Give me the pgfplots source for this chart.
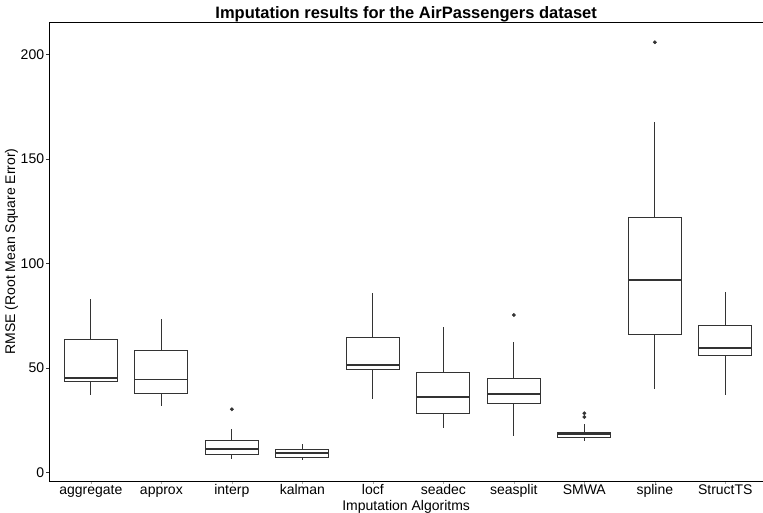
\documentclass[border=0pt]{standalone}
\usepackage{fontspec}
\setmainfont{Liberation Sans}
\usepackage{pgfplots}
\pgfplotsset{compat=1.18}
\usepgfplotslibrary{statistics}
\definecolor{boxgray}{HTML}{333333}

\begin{document}
\begin{tikzpicture}
\useasboundingbox (-49.3pt,-32pt) rectangle (713.7pt,481pt);
\begin{axis}[
  at={(0,0)}, anchor=south west,
  scale only axis, width=713.7pt, height=459pt,
  xmin=0.41, xmax=10.535, ymin=-4, ymax=215.6,
  axis x line*=box, axis y line*=left,
  axis line style={-, black, line width=0.9pt},
  xtick={1,...,10},
  xticklabels={aggregate,approx,interp,kalman,locf,seadec,seasplit,SMWA,spline,StructTS},
  ytick={0,50,100,150,200},
  xtick pos=left, ytick pos=left,
  tick align=outside, major tick length=3pt,
  tick style={boxgray, line width=0.8pt},
  xtick style={gray!70, line width=0.6pt},
  /pgf/number format/assume math mode=true,
  tick label style={font=\fontsize{14}{16}\selectfont, black},
  yticklabel style={anchor=east, inner sep=0pt, xshift=-2pt},
  xticklabel style={anchor=base, inner sep=0pt, yshift=-11pt},
  label style={font=\fontsize{14}{16}\selectfont},
  xlabel={Imputation Algoritms},
  ylabel={RMSE (Root Mean Square Error)},
  xlabel style={at={(axis description cs:0.5,-0.0632)}, anchor=base},
  ylabel style={at={(axis description cs:-0.048,0.5)}, anchor=base},
  title={Imputation results for the AirPassengers dataset},
  every axis title shift=0pt,
  title style={at={(0.5,1)}, anchor=base, yshift=3.7pt, font=\bfseries\fontsize{16.5}{18}\selectfont},
  boxplot/draw direction=y,
  boxplot/box extend=0.75,
  boxplot/whisker extend=0,
  boxplot/every box/.style={draw=boxgray, fill=white, line width=0.9pt},
  boxplot/every whisker/.style={draw=boxgray, line width=0.9pt},
  boxplot/every median/.style={draw=boxgray, line width=1.8pt},
  every axis plot/.append style={draw=boxgray, mark=*, mark size=1.7pt, mark options={fill=boxgray, draw=boxgray}},
]
% aggregate
\addplot[boxplot prepared={draw position=1, lower whisker=37.3, lower quartile=43.4, median=45.3, upper quartile=63.5, upper whisker=83.1}] coordinates {};
% approx
\addplot[boxplot prepared={draw position=2, lower whisker=31.7, lower quartile=38.1, median=44.6, upper quartile=58.3, upper whisker=73.5}] coordinates {};
% interp
\addplot[boxplot prepared={draw position=3, lower whisker=6.3, lower quartile=8.7, median=11.4, upper quartile=15.4, upper whisker=21.0}] coordinates {(0,30.3)};
% kalman
\addplot[boxplot prepared={draw position=4, lower whisker=5.9, lower quartile=7.3, median=9.5, upper quartile=11.3, upper whisker=13.7}] coordinates {};
% locf
\addplot[boxplot prepared={draw position=5, lower whisker=35.4, lower quartile=49.6, median=51.4, upper quartile=64.7, upper whisker=85.9}] coordinates {};
% seadec
\addplot[boxplot prepared={draw position=6, lower whisker=21.3, lower quartile=28.4, median=36.2, upper quartile=48.1, upper whisker=69.6}] coordinates {};
% seasplit
\addplot[boxplot prepared={draw position=7, lower whisker=17.4, lower quartile=33.2, median=37.6, upper quartile=45.3, upper whisker=62.6}] coordinates {(0,75.4)};
% SMWA
\addplot[boxplot prepared={draw position=8, lower whisker=15.0, lower quartile=16.9, median=18.5, upper quartile=19.3, upper whisker=23.1}] coordinates {(0,26.6) (0,28.4)};
% spline
\addplot[boxplot prepared={draw position=9, lower whisker=39.9, lower quartile=65.9, median=92.2, upper quartile=121.9, upper whisker=167.8}] coordinates {(0,205.9)};
% StructTS
\addplot[boxplot prepared={draw position=10, lower whisker=37.2, lower quartile=55.9, median=59.7, upper quartile=70.4, upper whisker=86.2}] coordinates {};
\end{axis}
\end{tikzpicture}
\end{document}
